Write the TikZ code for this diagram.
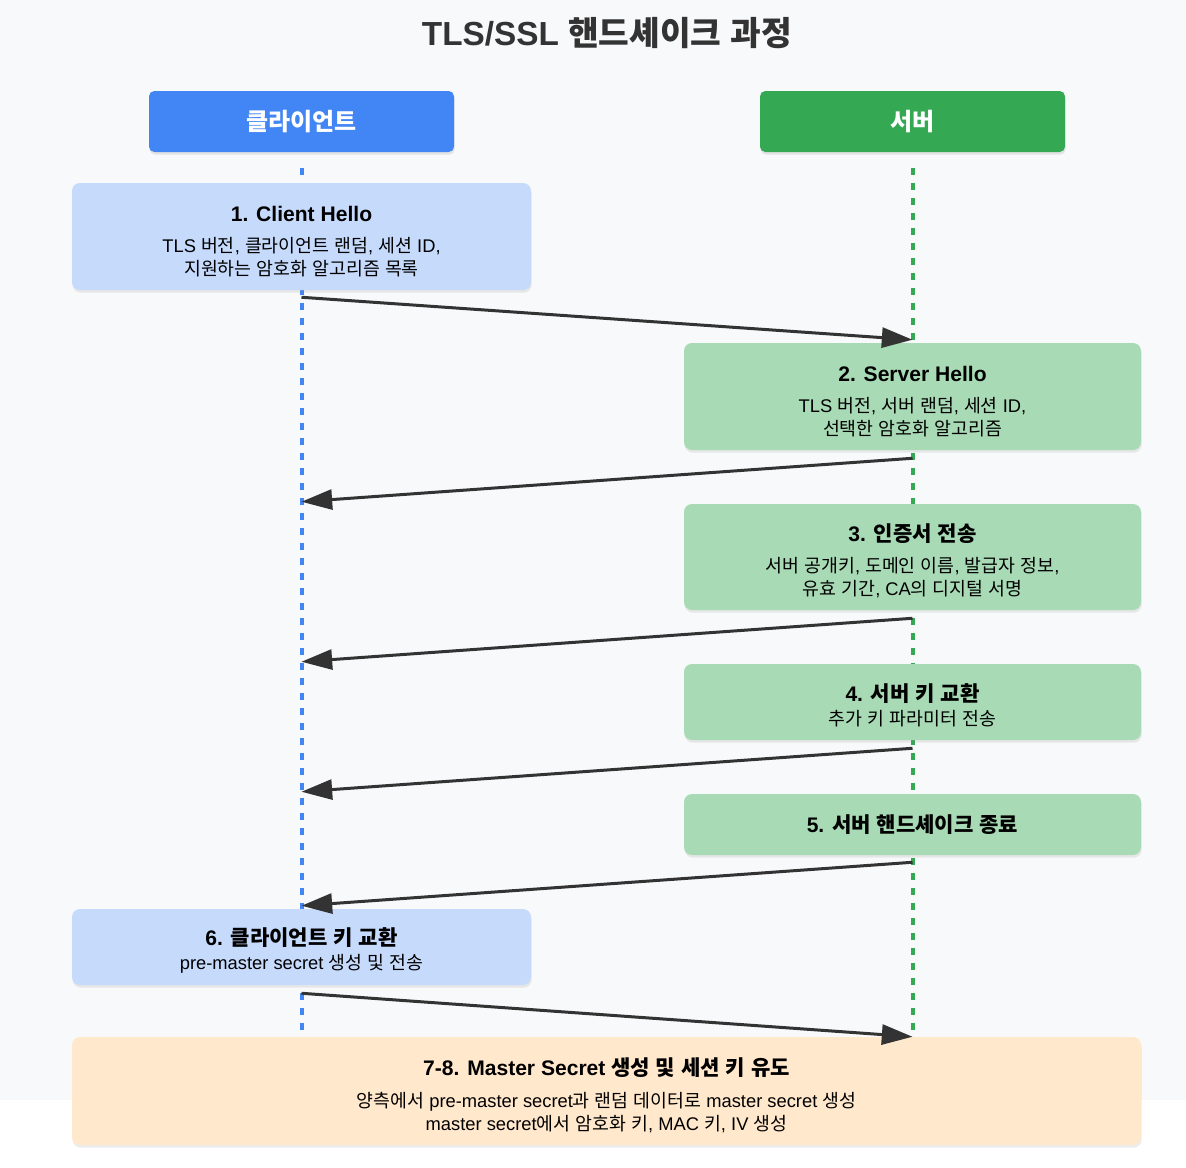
\documentclass[tikz,border=0pt]{standalone}
\usepackage{fontspec}
\setmainfont{Liberation Sans}
\newfontfamily\krfont{Noto Sans CJK KR}
\usetikzlibrary{arrows.meta, positioning, calc, shadows}
\definecolor{clientblue}{HTML}{4285F4}
\definecolor{servergreen}{HTML}{34A853}
\definecolor{clientfill}{HTML}{C6DAFC}
\definecolor{serverfill}{HTML}{A8DAB5}
\definecolor{keyfill}{HTML}{FFE8CC}
\definecolor{bggray}{HTML}{F8F9FA}
\definecolor{darktext}{HTML}{333333}

% Hangul syllables are set in the CJK font
\XeTeXinterchartokenstate=1
\newXeTeXintercharclass\hangulclass
\newcount\hcode
\hcode="AC00
\loop
  \XeTeXcharclass\hcode=\hangulclass
  \ifnum\hcode<"D7A3 \advance\hcode by 1
\repeat
\XeTeXinterchartoks 0 \hangulclass = {\begingroup\krfont}
\XeTeXinterchartoks 4095 \hangulclass = {\begingroup\krfont}
\XeTeXinterchartoks \hangulclass 0 = {\endgroup}
\XeTeXinterchartoks \hangulclass 4095 = {\endgroup}

\pgfdeclarelayer{back}
\pgfsetlayers{back,main}

\tikzset{
  actor/.style={rounded corners=4pt, minimum width=228.75pt, minimum height=45.75pt,
    text=white, font=\bfseries\fontsize{18}{21}\selectfont,
    drop shadow={shadow xshift=0.5pt, shadow yshift=-2pt, opacity=0.18}},
  msgbox/.style={rounded corners=6pt, align=center, text=black,
    font=\fontsize{13.75}{17.25}\selectfont,
    drop shadow={shadow xshift=0.5pt, shadow yshift=-2pt, opacity=0.15}},
  lifeline/.style={line width=3pt, dash pattern=on 5.25pt off 6pt},
  msg/.style={draw=darktext, line width=2.25pt, -{Triangle[length=23pt, width=15pt]}},
}
% title line of a box; the strut keeps the text block a little lower
\newcommand{\steptitle}[1]{{\bfseries\fontsize{15.8}{18}\selectfont\rule{0pt}{19pt}#1}}
\newcommand{\onetitle}[1]{{\bfseries\fontsize{15.8}{18}\selectfont #1}}

\begin{document}
\begin{tikzpicture}[x=0.75pt, y=-0.75pt]
  \useasboundingbox (0,0) rectangle (1186,1168);

  \node[font=\bfseries\fontsize{25}{29}\selectfont, text=darktext] (title) at (607,33) {TLS/SSL 핸드셰이크 과정};

  % actors
  \node[actor, fill=clientblue] (client) at (301.5,121.5) {클라이언트};
  \node[actor, fill=servergreen] (server) at (912.5,121.5) {서버};

  % messages
  \node[msgbox, fill=clientfill, minimum width=344.25pt, minimum height=80.25pt] (hello) at (301.5,236.5)
    {\steptitle{1. Client Hello}\\[6pt] TLS 버전, 클라이언트 랜덤, 세션 ID,\\ 지원하는 암호화 알고리즘 목록};
  \node[msgbox, fill=serverfill, minimum width=342.75pt, minimum height=80.25pt] (shello) at (912.5,396.5)
    {\steptitle{2. Server Hello}\\[6pt] TLS 버전, 서버 랜덤, 세션 ID,\\ 선택한 암호화 알고리즘};
  \node[msgbox, fill=serverfill, minimum width=342.75pt, minimum height=79.5pt] (cert) at (912.5,557)
    {\steptitle{3. 인증서 전송}\\[6pt] 서버 공개키, 도메인 이름, 발급자 정보,\\ 유효 기간, CA의 디지털 서명};
  \node[msgbox, fill=serverfill, minimum width=342.75pt, minimum height=57pt] (skx) at (912.5,702)
    {\steptitle{4. 서버 키 교환}\\[0.75pt] 추가 키 파라미터 전송};
  \node[msgbox, fill=serverfill, minimum width=342.75pt, minimum height=45.75pt] (done) at (912.5,824.5)
    {\onetitle{5. 서버 핸드셰이크 종료}};
  \node[msgbox, fill=clientfill, minimum width=344.25pt, minimum height=57pt] (ckx) at (301.5,947)
    {\steptitle{6. 클라이언트 키 교환}\\[0.75pt] pre-master secret 생성 및 전송};
  \node[msgbox, fill=keyfill, minimum width=801.75pt, minimum height=81pt] (final) at (606.5,1091)
    {\steptitle{7-8. Master Secret 생성 및 세션 키 유도}\\[6.75pt] 양측에서 pre-master secret과 랜덤 데이터로 master secret 생성\\ master secret에서 암호화 키, MAC 키, IV 생성};

  \begin{pgfonlayer}{back}
    \fill[bggray] (0,0) rectangle (1186,1100);
    \draw[lifeline, clientblue] ($(client.south)+(0,16)$) -- (client |- final.north);
    \draw[lifeline, servergreen] ($(server.south)+(0,16)$) -- (server |- final.north);
  \end{pgfonlayer}

  \draw[msg] ($(hello.south)+(0,7)$) -- ($(shello.north)+(0,-3)$);
  \draw[msg] ($(shello.south)+(0,8)$) -- ($(cert.north -| client)+(0,-2)$);
  \draw[msg] ($(cert.south)+(0,8)$) -- ($(skx.north -| client)+(0,-2)$);
  \draw[msg] ($(skx.south)+(0,8)$) -- ($(done.north -| client)+(0,-2)$);
  \draw[msg] ($(done.south)+(0,7)$) -- ($(ckx.north)+(0,-3)$);
  \draw[msg] ($(ckx.south)+(0,8)$) -- (final.north -| server);
\end{tikzpicture}
\end{document}
